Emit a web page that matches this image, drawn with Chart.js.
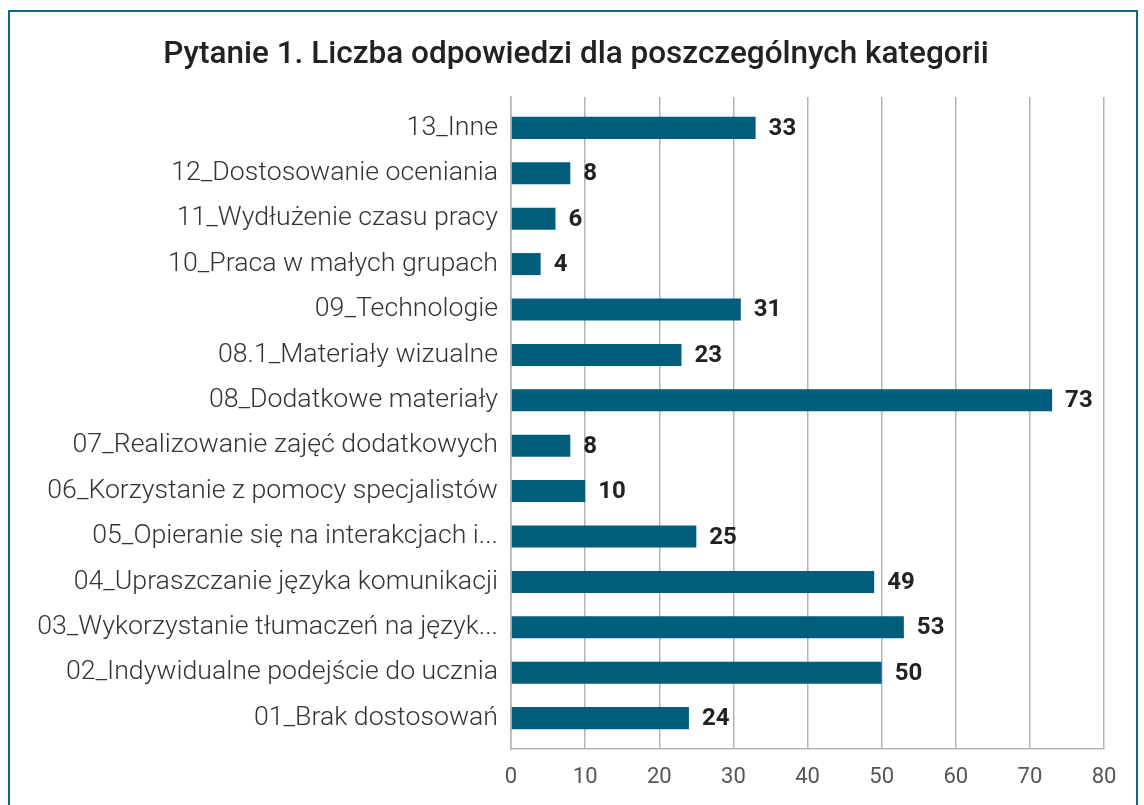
<!DOCTYPE html>
<html>
<head>
<meta charset="utf-8">
<script src="https://cdn.jsdelivr.net/npm/chart.js@4.4.1/dist/chart.umd.min.js"></script>
<style>
  html, body { margin: 0; padding: 0; background: #fff; }
  #wrap { position: relative; width: 1144px; height: 805px; overflow: hidden; }
  #frame { position: absolute; left: 8px; top: 10px; width: 1130px; height: 820px;
           border: 2px solid #0b6585; box-sizing: border-box; }
  canvas { position: absolute; left: 0; top: 0; }
</style>
</head>
<body>
<div id="wrap">
  <div id="frame"></div>
  <canvas id="chart" width="1144" height="805"></canvas>
</div>
<script>
const titleText = 'Pytanie 1. Liczba odpowiedzi dla poszczególnych kategorii';

// bottom to top, as in the chart
const categories = [
  '01_Brak dostosowań',
  '02_Indywidualne podejście do ucznia',
  '03_Wykorzystanie tłumaczeń na język...',
  '04_Upraszczanie języka komunikacji',
  '05_Opieranie się na interakcjach i...',
  '06_Korzystanie z pomocy specjalistów',
  '07_Realizowanie zajęć dodatkowych',
  '08_Dodatkowe materiały',
  '08.1_Materiały wizualne',
  '09_Technologie',
  '10_Praca w małych grupach',
  '11_Wydłużenie czasu pracy',
  '12_Dostosowanie oceniania',
  '13_Inne'
];
const answers = [24, 50, 53, 49, 25, 10, 8, 73, 23, 31, 4, 6, 8, 33];

const axisMin = 0;
const axisMax = 80;
const axisStep = 10;

// numbers next to bar ends
const valueLabels = {
  id: 'valueLabels',
  afterDatasetsDraw(chart) {
    const ctx = chart.ctx;
    const meta = chart.getDatasetMeta(0);
    ctx.save();
    ctx.font = '700 24px "Roboto", sans-serif';
    ctx.fillStyle = '#222';
    ctx.textAlign = 'left';
    ctx.textBaseline = 'middle';
    meta.data.forEach((bar, i) => {
      ctx.fillText(String(answers[i]), bar.x + 13, bar.y + 1);
    });
    ctx.restore();
  }
};

// title centred on the frame, not on the padded layout
const frameTitle = {
  id: 'frameTitle',
  afterDraw(chart) {
    const ctx = chart.ctx;
    ctx.save();
    ctx.font = '500 31.5px "Roboto", sans-serif';
    ctx.fillStyle = '#222';
    ctx.textAlign = 'center';
    ctx.textBaseline = 'middle';
    ctx.fillText(titleText, 576, 55);
    ctx.restore();
  }
};

const chart = new Chart(document.getElementById('chart'), {
  type: 'bar',
  data: {
    datasets: [{
      data: answers.map((v, i) => ({ x: v, y: i })),
      backgroundColor: '#015d7c',
      barPercentage: 0.485,
      categoryPercentage: 1
    }]
  },
  options: {
    indexAxis: 'y',
    responsive: false,
    animation: false,
    layout: { padding: { left: 20, right: 40, top: 97, bottom: 0 } },
    plugins: {
      legend: { display: false },
      tooltip: { enabled: false },
      title: { display: false }
    },
    scales: {
      x: {
        type: 'linear',
        min: axisMin,
        max: axisMax,
        ticks: {
          stepSize: axisStep,
          color: '#555',
          padding: 15,
          font: { family: '"Liberation Sans Narrow", Roboto', size: 22 }
        },
        grid: { color: '#b4b4b4', lineWidth: 1.5, drawTicks: false },
        border: { color: '#b4b4b4', width: 1.5 },
        afterFit(scale) { scale.height = 56; }
      },
      y: {
        type: 'linear',
        offset: false,
        min: -0.68,
        max: categories.length - 1 + 0.68,
        afterBuildTicks(scale) {
          scale.ticks = categories.map((c, i) => ({ value: i }));
        },
        ticks: {
          color: '#333',
          padding: 13,
          autoSkip: false,
          callback: v => categories[v],
          font: { family: 'Roboto', size: 26.7, weight: '300' }
        },
        grid: { display: false, drawTicks: false },
        border: { color: '#b4b4b4', width: 1.5 },
        afterFit(scale) { scale.width = 491; }
      }
    }
  },
  plugins: [valueLabels, frameTitle]
});
</script>
</body>
</html>
